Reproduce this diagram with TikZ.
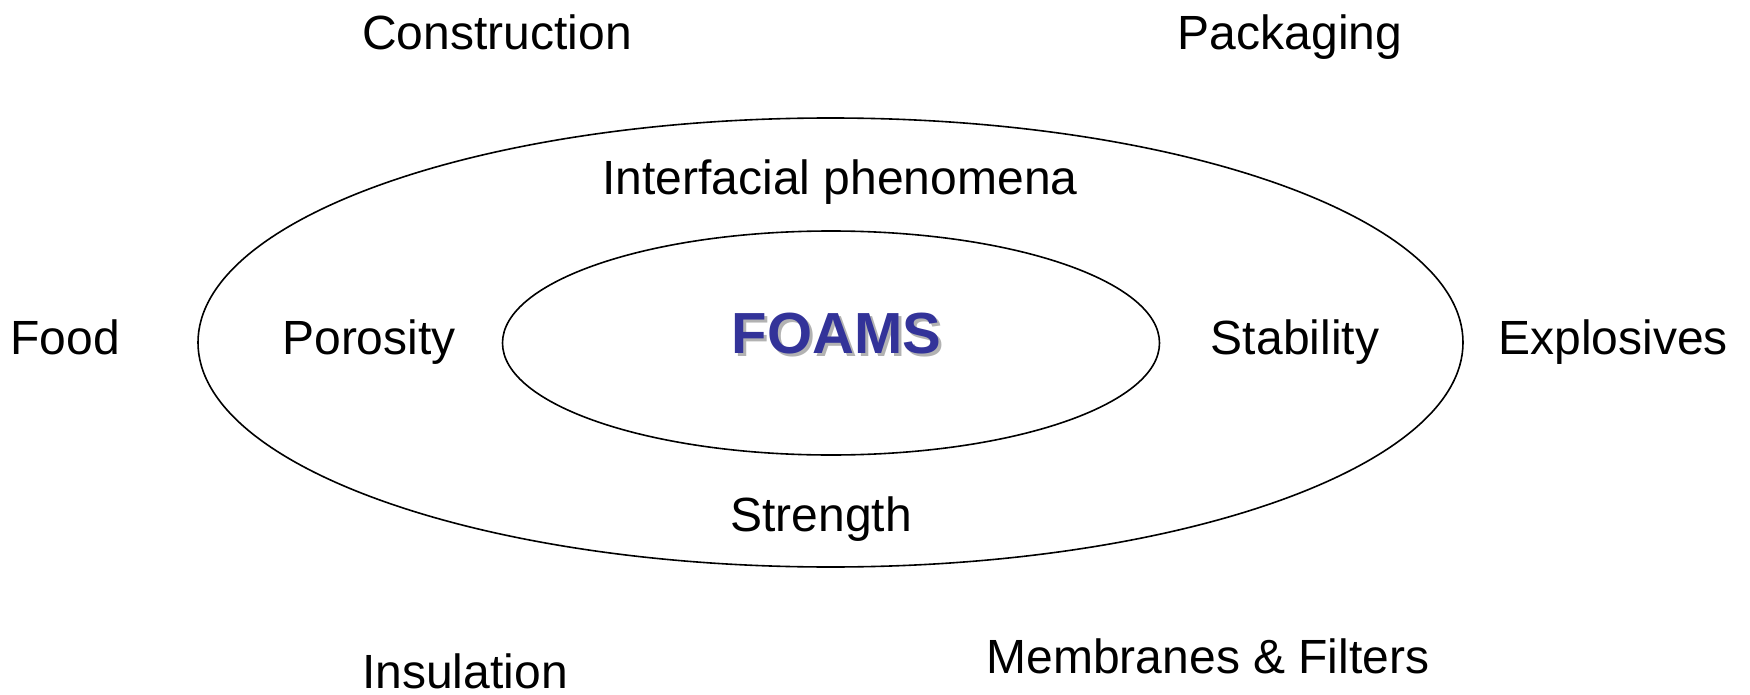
\documentclass[tikz,border=0pt]{standalone}
\usepackage{fontspec}
\setmainfont{Liberation Sans}
\usetikzlibrary{shapes.geometric}
\definecolor{foamblue}{RGB}{51,51,153}
\definecolor{shadowgray}{RGB}{178,178,178}
\begin{document}
\begin{tikzpicture}[x=1pt,y=-1pt,
  lbl/.style={anchor=base,inner sep=0pt,font=\fontsize{48}{56}\selectfont},
  ring/.style={draw,ellipse,line width=1.6pt,inner sep=0pt}]
\useasboundingbox (0,0) rectangle (1750,695);
\node[ring,minimum width=1265pt,minimum height=449pt] (outer) at (830.5,342.5) {};
\node[ring,minimum width=657pt,minimum height=224pt] (inner) at (831,343) {};
\node[lbl] (construction) at (497,50) {Construction};
\node[lbl] (packaging) at (1290,50) {Packaging};
\node[lbl] (interfacial) at (840,195) {Interfacial phenomena};
\node[lbl] (food) at (65,354.5) {Food};
\node[lbl] (porosity) at (369,354.5) {Porosity};
\node[lbl] (stability) at (1295,354.5) {Stability};
\node[lbl] (explosives) at (1613,354.5) {Explosives};
\node[lbl] (strength) at (821,531) {Strength};
\node[lbl] (insulation) at (465,688) {Insulation};
\node[lbl] (membranes) at (1208,673) {Membranes \& Filters};
\node[anchor=base,inner sep=0pt,font=\fontsize{58}{64}\bfseries\selectfont,text=shadowgray] (foamsshadow) at (839.5,356) {FOAMS};
\node[anchor=base,inner sep=0pt,font=\fontsize{58}{64}\bfseries\selectfont,text=foamblue] (foams) at (836.5,353) {FOAMS};
\end{tikzpicture}
\end{document}
